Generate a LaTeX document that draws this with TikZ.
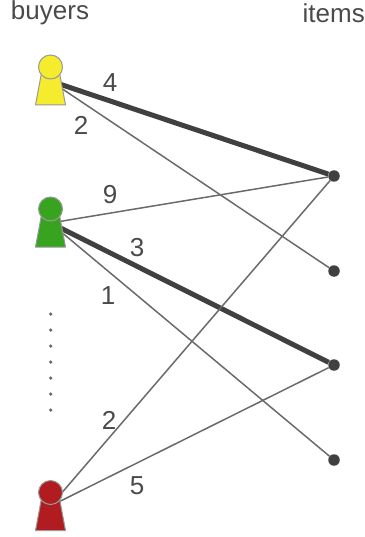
\documentclass[tikz,border=0pt]{standalone}
\usepackage{fontspec}
\setmainfont{Liberation Sans}
\definecolor{ink}{HTML}{4A4A4A}
\definecolor{edgethin}{HTML}{6A6A6A}
\definecolor{edgethick}{HTML}{404040}
\definecolor{rim}{HTML}{999999}
\definecolor{pawnyellow}{HTML}{F5EC2D}
\definecolor{pawngreen}{HTML}{38A31F}
\definecolor{pawnred}{HTML}{B01C20}
\tikzset{
  thinedge/.style={edgethin,line width=1.5pt},
  thickedge/.style={edgethick,line width=5pt},
  itemdot/.style={circle,fill=edgethick,draw=none,minimum size=11.5pt,inner sep=0pt},
  tinydot/.style={circle,fill=edgethin,draw=none,minimum size=3.6pt,inner sep=0pt},
  lab/.style={text=ink,font=\fontsize{26pt}{28pt}\selectfont,inner sep=0pt},
  pawn/.pic={
    \path[fill=pawnfill,draw=rim,line width=1pt,line join=round]
      (-9,6) -- (9,6) -- (15,38) -- (-15,38) -- cycle;
    \node[circle,fill=pawnfill,draw=rim,line width=1pt,minimum size=24pt,inner sep=0pt] at (0,0) {};
  }
}
\begin{document}
\begin{tikzpicture}[x=1pt,y=-1pt]
\useasboundingbox (0,0) rectangle (364,537);
\coordinate (b1) at (50.5,81);
\coordinate (b2) at (50.5,223);
\coordinate (b3) at (50.5,506);
\node[itemdot] (i1) at (334,176) {};
\node[itemdot] (i2) at (334,271) {};
\node[itemdot] (i3) at (334,365) {};
\node[itemdot] (i4) at (334,460) {};
\draw[thickedge] (b1) -- (i1);
\draw[thinedge] (b1) -- (i2);
\draw[thinedge] (b2) -- (i1);
\draw[thickedge] (b2) -- (i3);
\draw[thinedge] (b2) -- (i4);
\draw[thinedge] (b3) -- (i1);
\draw[thinedge] (b3) -- (i3);
\colorlet{pawnfill}{pawnyellow}
\pic at (50.5,67) {pawn};
\colorlet{pawnfill}{pawngreen}
\pic at (50.5,209) {pawn};
\colorlet{pawnfill}{pawnred}
\pic at (50.5,492.5) {pawn};
\foreach \n/\y in {1/314,2/330,3/346,4/362,5/378,6/394,7/410}
  \node[tinydot] (d\n) at (50.7,\y) {};
\node[lab,anchor=base] (buyers) at (50,19.5) {buyers};
\node[lab,anchor=base west] (items) at (302.5,23) {items};
\node[lab] (w1) at (110,82.5) {4};
\node[lab] (w2) at (81,125) {2};
\node[lab] (w3) at (110,195) {9};
\node[lab] (w4) at (137,248) {3};
\node[lab] (w5) at (108,296) {1};
\node[lab] (w6) at (109,420) {2};
\node[lab] (w7) at (137,486) {5};
\end{tikzpicture}
\end{document}
